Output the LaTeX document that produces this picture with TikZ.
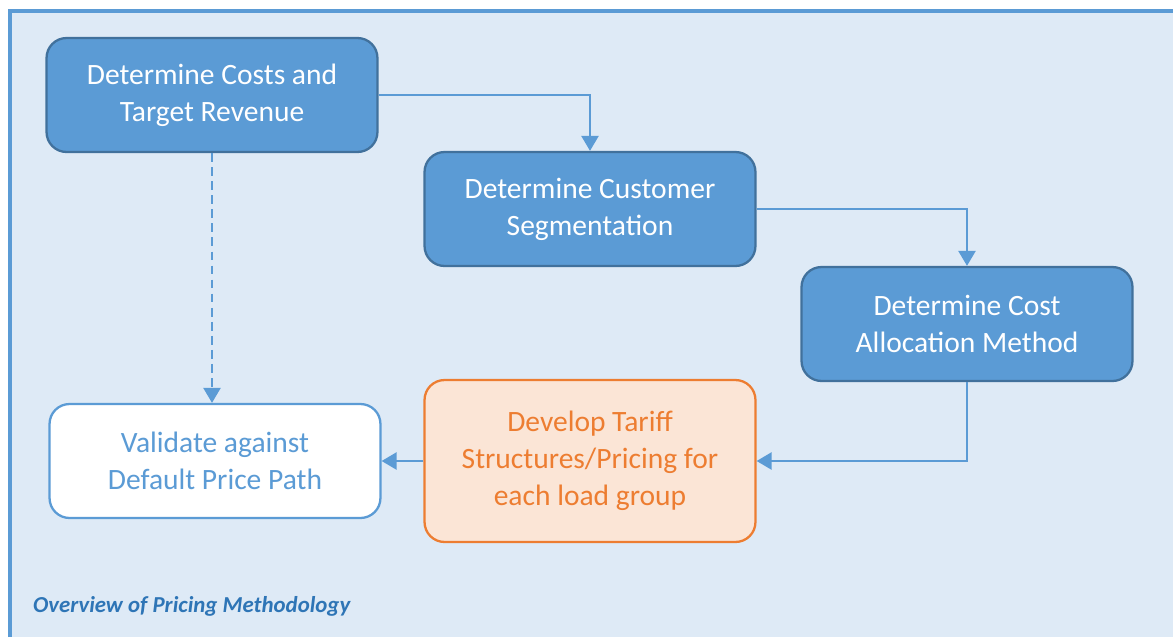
\documentclass[tikz,border=0pt]{standalone}
\usepackage{fontspec}
\setmainfont{Carlito}
\usepackage{xcolor}
\usetikzlibrary{arrows.meta}

\definecolor{panel}{HTML}{DEEAF6}
\definecolor{frameblue}{HTML}{5B9BD5}
\definecolor{stepfill}{HTML}{5B9BD5}
\definecolor{stepedge}{HTML}{41719C}
\definecolor{tarifffill}{HTML}{FBE5D6}
\definecolor{tariffedge}{HTML}{ED7D31}
\definecolor{captionblue}{HTML}{2E75B6}

\begin{document}
\begin{tikzpicture}[x=0.02cm, y=-0.02cm,
        box/.style={rounded corners=0.4cm, line width=1.3pt, minimum width=6.62cm,
            minimum height=2.28cm, align=center, font=\fontsize{16.8}{21}\selectfont},
        stepbox/.style={box, fill=stepfill, draw=stepedge, text=white},
        tariffbox/.style={box, fill=tarifffill, draw=tariffedge, text=tariffedge, minimum height=3.24cm},
        checkbox/.style={box, fill=white, draw=frameblue, text=frameblue},
        flow/.style={draw=frameblue, line width=1.4pt, -{Triangle[width=0.34cm,length=0.3cm]}}]
    \useasboundingbox (0,0) rectangle (1173,637);
    \fill[panel] (10,11) rectangle (1173,637);
    \draw[frameblue, line width=2.2pt] (10,637) -- (10,11) -- (1173,11);

    \node (costs) at (212,95) [stepbox] {Determine Costs and\\Target Revenue};
    \node (segment) at (590,209) [stepbox] {Determine Customer\\Segmentation};
    \node (alloc) at (967,324) [stepbox] {Determine Cost\\Allocation Method};
    \node (tariff) at (590,461) [tariffbox] {Develop Tariff\\Structures/Pricing for\\each load group};
    \node (check) at (215,461) [checkbox] {Validate against\\Default Price Path};

    \draw[flow] (costs.east) -| (segment.north);
    \draw[flow] (segment.east) -| (alloc.north);
    \draw[flow] (alloc.south) |- (tariff.east);
    \draw[flow] (tariff.west) -- (check.east);
    \draw[flow, dash pattern=on 5pt off 3pt] (costs.south) -- (costs.south |- check.north);

    \node (caption) at (27,606) [anchor=west, text=captionblue,
        font=\fontsize{13}{15}\selectfont\bfseries\itshape] {Overview of Pricing Methodology};
\end{tikzpicture}
\end{document}
